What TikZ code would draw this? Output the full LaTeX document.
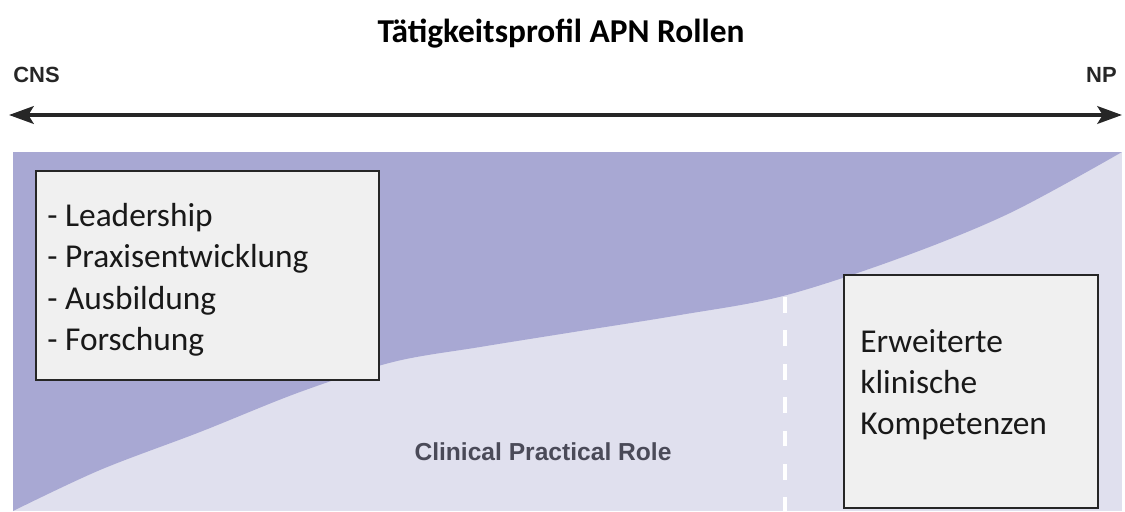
\documentclass[tikz,border=0pt]{standalone}
\usepackage{fontspec}
\setmainfont{Carlito}
\newfontfamily\arialfont{Liberation Sans}
\usetikzlibrary{arrows.meta,positioning}

\definecolor{rolldark}{HTML}{A8A8D3}
\definecolor{rolllight}{HTML}{E0E0EE}
\definecolor{boxfill}{HTML}{F0F0F0}
\definecolor{axisgray}{HTML}{262626}
\definecolor{labelgray}{HTML}{4A4A58}

\tikzset{
  infobox/.style={draw=black!85, line width=1.4pt, fill=boxfill, inner sep=0pt},
  boxtext/.style={align=left, inner sep=0pt, font=\fontsize{19}{23.5}\selectfont, text=black!90},
  endlabel/.style={inner sep=0pt, font=\arialfont\bfseries\fontsize{12.5}{14}\selectfont, text=axisgray},
}

\begin{document}
\begin{tikzpicture}[x=0.02cm, y=-0.02cm]
\useasboundingbox (0,0) rectangle (1125,511);

\node[font=\bfseries\fontsize{19}{22}\selectfont] (title) at (561,34) {Tätigkeitsprofil APN Rollen};

\node[endlabel, anchor=west] (cns) at (13,75) {CNS};
\node[endlabel, anchor=east] (np) at (1117,75) {NP};

\coordinate (axl) at (9,115);
\coordinate (axr) at (1122,115);
\draw[axisgray, line width=2.2pt, {Stealth[length=14pt,width=10pt,inset=3pt]}-{Stealth[length=14pt,width=10pt,inset=3pt]}] (axl) -- (axr);

% panel
\fill[rolllight] (13,152) rectangle (1122,511);
\fill[rolldark] plot[smooth, tension=0.55] coordinates {(13,511) (100,470) (200,432) (300,392) (393,362) (480,347) (580,331) (680,315) (783,296) (900,258) (1010,213) (1122,152)} -- (13,152) -- cycle;

\draw[white, line width=2.2pt, dash pattern=on 9pt off 10pt] (785,297) -- (785,511);

\node[font=\arialfont\bfseries\fontsize{14}{16}\selectfont, text=labelgray] (cpr) at (543,452) {Clinical Practical Role};

% boxes
\node[infobox, minimum width=6.86cm, minimum height=4.18cm, anchor=north west] (lbox) at (35,170) {};
\node[boxtext, anchor=north west] (ltext) at (47,203) {- Leadership\\- Praxisentwicklung\\- Ausbildung\\- Forschung};

\node[infobox, minimum width=5.08cm, minimum height=4.66cm, anchor=north west] (rbox) at (843,274) {};
\node[boxtext, anchor=north west] (rtext) at (860,329) {Erweiterte\\klinische\\Kompetenzen};

\end{tikzpicture}
\end{document}
